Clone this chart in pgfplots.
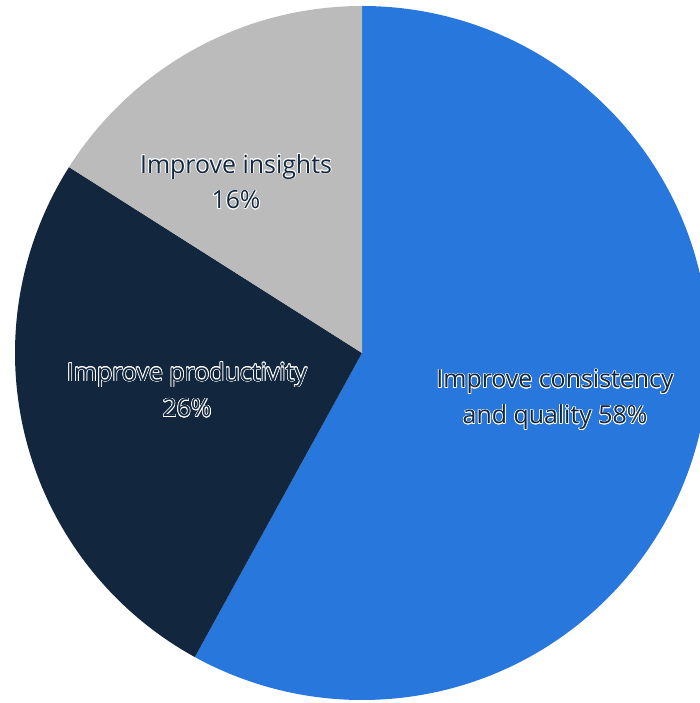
\documentclass[border=0pt]{standalone}
\usepackage{pgfplots}
\pgfplotsset{compat=1.18}
\usepackage{pgfplotstable}
\usepackage{fontspec}
\setmainfont{Open Sans}
\usepackage{contour}
\contourlength{0.7bp}
\contournumber{16}

\definecolor{pieblue}{HTML}{2877DD}
\definecolor{piedark}{HTML}{12273D}
\definecolor{piegray}{HTML}{BBBBBB}
\definecolor{labeldark}{HTML}{13283F}

% share in percent, clockwise from 12 o'clock
\pgfplotstableread[col sep=comma]{
share,color
58,pieblue
26,piedark
16,piegray
}\piedata

% dark text with a thin light halo
\newcommand\lbl[1]{\contour{white}{\textcolor{labeldark}{#1}}}

\begin{document}
\begin{tikzpicture}
\begin{axis}[
  scale only axis,
  width=700bp, height=703bp,
  xmin=0, xmax=700, ymin=0, ymax=703,
  hide axis,
]
  \addplot[draw=none] coordinates {(0,0) (700,703)};
  \def\start{90}
  \pgfplotsforeachungrouped \i in {0,1,2}{
    \pgfplotstablegetelem{\i}{share}\of\piedata \let\v\pgfplotsretval
    \pgfplotstablegetelem{\i}{color}\of\piedata \let\c\pgfplotsretval
    \pgfmathsetmacro\stop{\start-3.6*\v}
    \edef\temp{\noexpand\fill[\c] (axis cs:362,350) -- ++(\start:347bp)
      arc[start angle=\start, end angle=\stop, radius=347bp] -- cycle;}
    \temp
    \global\let\start\stop
  }
  \node[font=\fontsize{25}{36}\selectfont, align=center] at (axis cs:236,521)
    {\lbl{Improve insights}\\\lbl{16\%}};
  \node[font=\fontsize{25}{36}\selectfont, align=center] at (axis cs:187,313)
    {\lbl{Improve productivity}\\\lbl{26\%}};
  \node[font=\fontsize{25}{36}\selectfont, align=center] at (axis cs:555,303)
    {\lbl{Improve consistency}\\\lbl{and quality 58\%}};
\end{axis}
\pgfresetboundingbox
\useasboundingbox (current axis.south west) rectangle (current axis.north east);
\end{tikzpicture}
\end{document}
